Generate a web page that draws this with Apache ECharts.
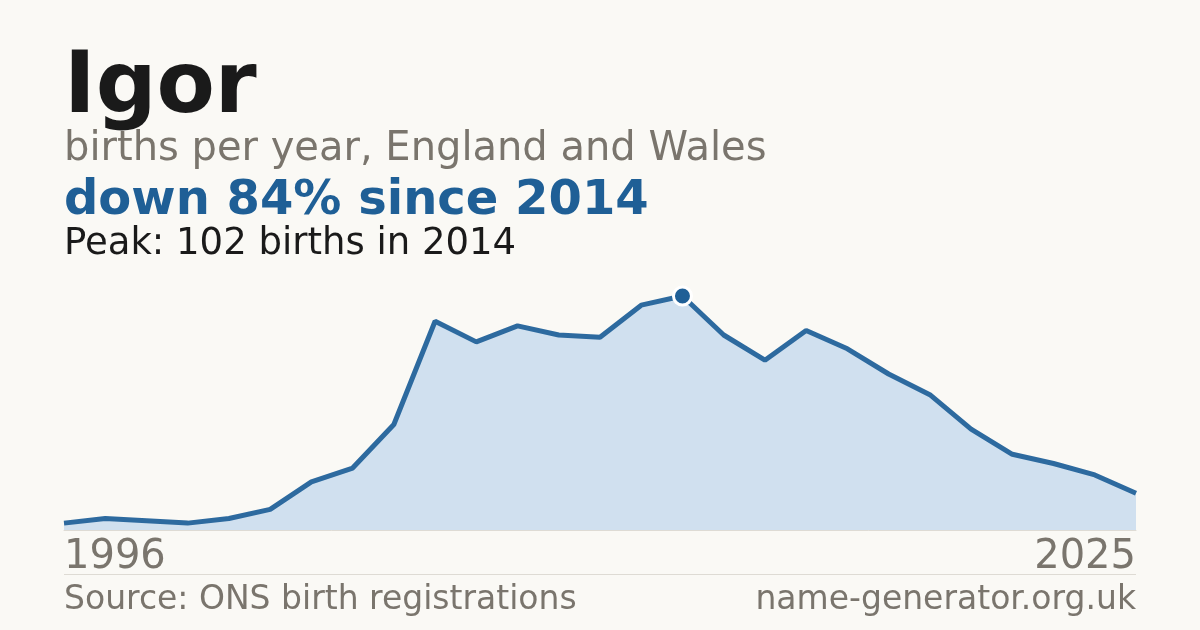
<!DOCTYPE html>
<html>
<head>
<meta charset="utf-8">
<script src="https://cdn.jsdelivr.net/npm/echarts@6/dist/echarts.min.js"></script>
<style>
html,body{margin:0;padding:0;background:#faf9f5;}
#c{width:1200px;height:630px;}
</style>
</head>
<body>
<div id="c"></div>
<script>
const years = ['1996','1998','2000','2002','2003','2004','2005','2006','2007','2008','2009','2010','2011','2012','2013','2014','2015','2016','2017','2018','2019','2020','2021','2022','2023','2024','2025'];
const births = [3,5,4,3,5,9,21,27,46,91,82,89,85,84,98,102,85,74,87,79,68,59,44,33,29,24,16];
const titleText = 'Igor';
const subtitleText = 'births per year, England and Wales';
const headlineText = 'down 84% since 2014';
const peakText = 'Peak: 102 births in 2014';
const sourceText = 'Source: ONS birth registrations';
const siteText = 'name-generator.org.uk';

const FONT = 'DejaVu Sans';
const chart = echarts.init(document.getElementById('c'));
const last = years.length - 1;
chart.setOption({
  backgroundColor: '#faf9f5',
  animation: false,
  grid: {left: 64, right: 64, top: 296, bottom: 100, containLabel: false},
  xAxis: {
    type: 'category',
    data: years,
    boundaryGap: false,
    axisLine: {show: true, lineStyle: {color: '#dedbd4', width: 1}},
    axisTick: {show: false},
    splitLine: {show: false},
    axisLabel: {
      interval: 0,
      formatter: (v, i) => (i === 0 || i === last) ? v : '',
      color: '#7a756d',
      fontFamily: FONT,
      fontSize: 40,
      margin: 8,
      alignMinLabel: 'left',
      alignMaxLabel: 'right'
    }
  },
  yAxis: {
    type: 'value', min: 0, max: 'dataMax', show: false
  },
  series: [{
    type: 'line',
    data: births,
    symbol: 'none',
    lineStyle: {color: '#2d6a9f', width: 5},
    areaStyle: {color: '#d0e0ef', opacity: 1},
    markPoint: {
      symbol: 'circle',
      symbolSize: 18,
      data: [{type: 'max'}],
      itemStyle: {color: '#1f5f96', borderColor: '#ffffff', borderWidth: 3},
      label: {show: false}
    }
  }],
  graphic: [
    {type: 'text', left: 64, top: 47, style: {text: titleText, font: 'bold 85px "DejaVu Sans"', fill: '#1a1a1a'}},
    {type: 'text', left: 64, top: 130, style: {text: subtitleText, font: '40px "DejaVu Sans"', fill: '#7a756d'}},
    {type: 'text', left: 64, top: 178, style: {text: headlineText, font: 'bold 48px "DejaVu Sans"', fill: '#1f5f96'}},
    {type: 'text', left: 64, top: 226, style: {text: peakText, font: '37px "DejaVu Sans"', fill: '#1a1a1a'}},
    {type: 'line', shape: {x1: 64, y1: 574.5, x2: 1136, y2: 574.5}, style: {stroke: '#dedbd4', lineWidth: 1}},
    {type: 'text', left: 64, top: 584, style: {text: sourceText, font: '33px "DejaVu Sans"', fill: '#7a756d'}},
    {type: 'text', right: 64, top: 584, style: {text: siteText, font: '33px "DejaVu Sans"', fill: '#7a756d', align: 'right'}}
  ]
});
</script>
</body>
</html>
